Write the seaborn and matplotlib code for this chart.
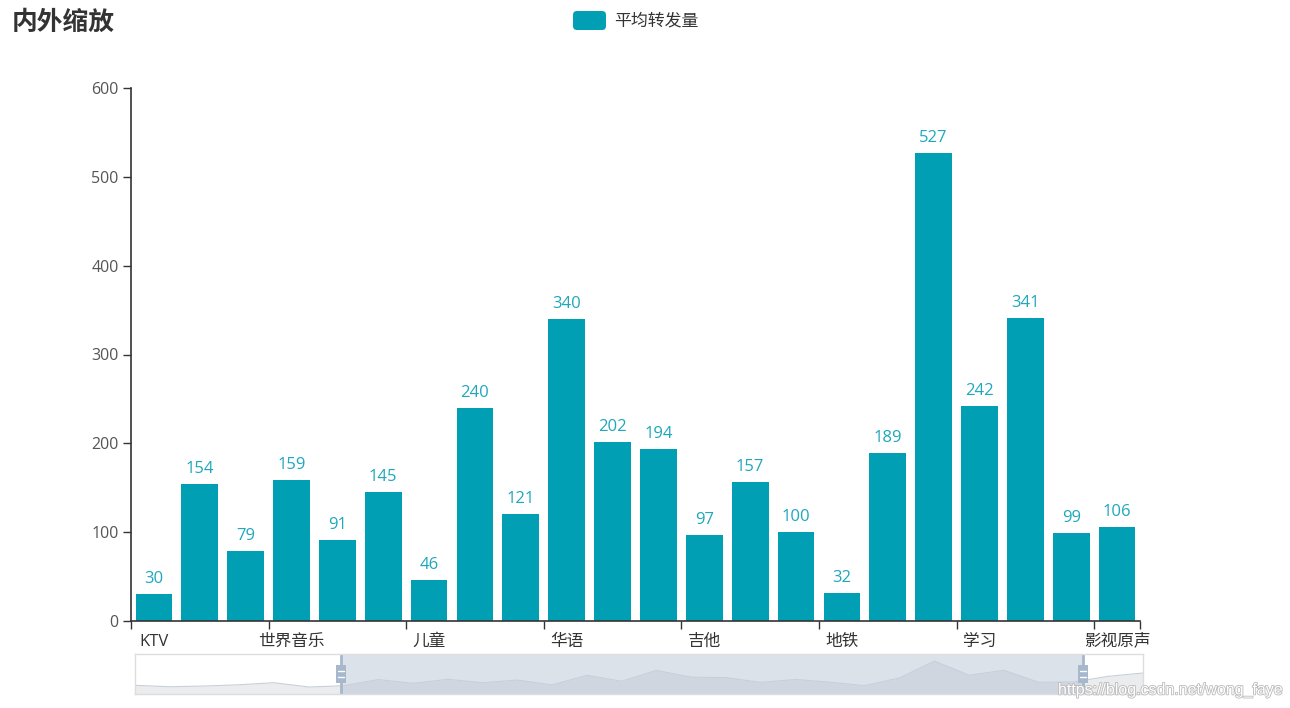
import matplotlib
matplotlib.use("Agg")
import matplotlib.pyplot as plt
import matplotlib.patheffects as pe
from matplotlib.patches import FancyBboxPatch, Rectangle
from matplotlib.transforms import IdentityTransform
import seaborn as sns
import pandas as pd
import numpy as np

# ---------------- data ----------------
categories = ['KTV', '下午茶', '中国风', '世界音乐', '乡村', '伤感', '儿童', '兴奋', '古典',
              '华语', '午休', '另类/独立', '吉他', '后摇', '国风', '地铁', '夜晚', '孤独',
              '学习', '安静', '寂寞', '影视原声']
values = [30, 154, 79, 159, 91, 145, 46, 240, 121, 340, 202, 194, 97, 157, 100, 32,
          189, 527, 242, 341, 99, 106]
shadow_before = [38, 10, 24, 50, 91, 4]      # data outside zoom window (left)
shadow_after = [220, 287]                    # data outside zoom window (right)
title = '内外缩放'
series_name = '平均转发量'
yticks = [0, 100, 200, 300, 400, 500, 600]

bar_color = '#009FB3'
label_color = '#1FA7BC'

sns.set_theme(style='white')
FONTS = ['Open Sans', 'Noto Sans CJK SC', 'DejaVu Sans']
plt.rcParams['font.family'] = FONTS

W, H = 1290, 708
fig = plt.figure(figsize=(W / 100, H / 100), dpi=100)

def fx(px):
    return px / W

def fy(py):
    return 1 - py / H

# ---------------- main axes ----------------
ax = fig.add_axes([fx(131), fy(621), fx(1140) - fx(131), fy(88) - fy(621)])
df = pd.DataFrame({'category': categories, 'value': values})
sns.barplot(data=df, x='category', y='value', color=bar_color, saturation=1,
            width=0.8, ax=ax, edgecolor='none')
ax.set_xlim(-0.5, len(categories) - 0.5)
ax.set_ylim(0, 600)
ax.set_xlabel('')
ax.set_ylabel('')

for cont in ax.containers:
    ax.bar_label(cont, labels=[str(v) for v in values], padding=5,
                 color=label_color, fontsize=12)

for s in ['top', 'right']:
    ax.spines[s].set_visible(False)
for s in ['left', 'bottom']:
    ax.spines[s].set_color('#333333')
    ax.spines[s].set_linewidth(1.2)

ax.set_yticks(yticks)
ax.set_yticklabels([str(t) for t in yticks])
ax.tick_params(axis='y', length=6, width=1, color='#333333', labelcolor='#555555',
               labelsize=11.5, pad=3, left=True)

major_idx = list(range(0, len(categories), 3))
ax.set_xticks(major_idx)
ax.set_xticklabels([categories[i] for i in major_idx])
ax.set_xticks([i - 0.5 for i in major_idx] + [len(categories) - 0.5], minor=True)
ax.tick_params(axis='x', which='major', length=0, labelsize=12,
               labelcolor='#333333', pad=9)
ax.tick_params(axis='x', which='minor', length=6, width=1, color='#333333',
               bottom=True)
ax.grid(False)

# ---------------- dataZoom slider ----------------
full = shadow_before + values + shadow_after
n = len(full)
ax2 = fig.add_axes([fx(135), fy(694), fx(1143) - fx(135), fy(654) - fy(694)])
ax2.set_xlim(0, n - 1)
ylo, yhi = -137, 671
ax2.set_ylim(ylo, yhi)
xs = np.arange(n)
ax2.fill_between(xs, full, ylo, color='#EBECEE', lw=0)
ax2.plot(xs, full, color='#C8CFD9', lw=0.8)
start, end = 5.93, 27.27
ax2.axvspan(start, end, color=(167 / 255, 183 / 255, 204 / 255, 0.4), lw=0)
for xh in (start, end):
    ax2.axvline(xh, color='#A7B7CC', lw=2)
    hw = 10 / 34.76
    hh = 18 / 40 * (yhi - ylo)
    yc = 267
    ax2.add_patch(Rectangle((xh - hw / 2, yc - hh / 2), hw, hh,
                            facecolor='#A7B7CC', edgecolor='none', zorder=5))
    for dy in (-0.18, 0.18):
        ax2.plot([xh - hw * 0.28, xh + hw * 0.28], [yc + dy * hh, yc + dy * hh],
                 color='white', lw=1, zorder=6)
ax2.set_xticks([])
ax2.set_yticks([])
for s in ax2.spines.values():
    s.set_color('#DDDDDD')
    s.set_linewidth(1)

# ---------------- title & legend ----------------
fig.text(fx(12), fy(22), title, fontsize=18.5, fontweight='bold', color='#333333',
         va='center', ha='left', family=['Noto Sans CJK SC', 'DejaVu Sans'])
fig.add_artist(FancyBboxPatch((573, H - 30), 33, 19,
                              boxstyle='round,pad=0,rounding_size=4',
                              facecolor=bar_color, edgecolor='none',
                              transform=IdentityTransform()))
fig.text(fx(614), fy(20), series_name, fontsize=12.2, color='#333333',
         va='center', ha='left', family=['Noto Sans CJK SC', 'DejaVu Sans'])

# watermark
fig.text(fx(1058), fy(690), 'https://blog.csdn.net/wong_faye', fontsize=11.5,
         color='white', family=['Liberation Sans', 'DejaVu Sans'],
         va='center', ha='left',
         path_effects=[pe.withStroke(linewidth=1.2, foreground='#BBBBBB')])

fig.savefig('out.png', dpi=100)
